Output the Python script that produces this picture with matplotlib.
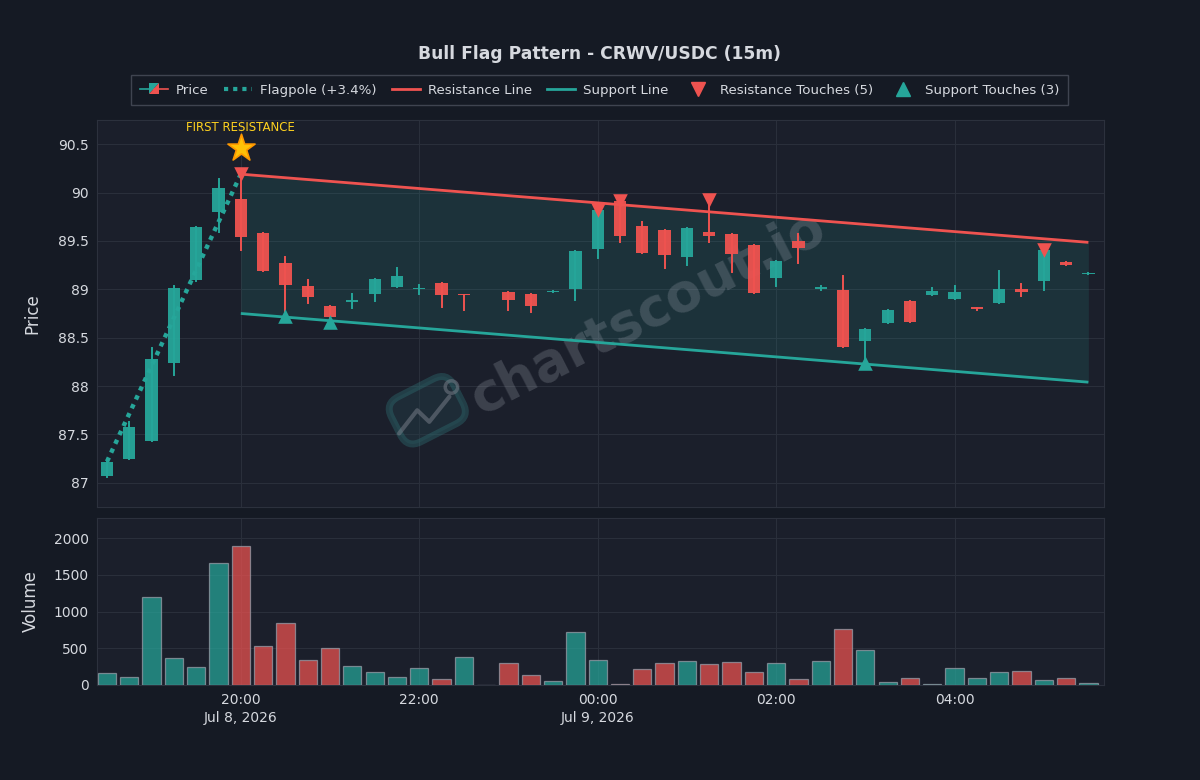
import numpy as np
import pandas as pd
import matplotlib
matplotlib.use("Agg")
import matplotlib.pyplot as plt
import matplotlib.dates as mdates
import matplotlib.ticker as mticker
from matplotlib.patches import Rectangle, Polygon
from matplotlib.lines import Line2D
from matplotlib.legend_handler import HandlerBase

# ─── data (15m candles, Jul 8 18:30 → Jul 9 05:30) ───────────────────────────
times = pd.date_range("2026-07-08 18:30", periods=45, freq="15min")

opens = [87.07, 87.25, 87.43, 88.24, 89.10, 89.80, 89.93, 89.58, 89.27, 89.03,
         88.83, 88.87, 88.95, 89.02, 89.00, 89.06, 88.94, np.nan, 88.975, 88.95,
         88.975, 89.00, 89.42, 89.91, 89.65, 89.61, 89.33, 89.59, 89.57, 89.46,
         89.12, 89.50, 89.00, 88.99, 88.47, 88.65, 88.88, 88.94, 88.90, 88.80,
         88.86, 89.00, 89.09, 89.28, 89.16]
highs = [87.23, 87.63, 88.39, 89.03, 89.64, 90.14, 90.19, 89.58, 89.33, 89.10,
         88.83, 88.95, 89.11, 89.22, 89.04, 89.06, 88.94, np.nan, 88.975, 88.95,
         88.985, 89.40, 89.82, 89.91, 89.70, 89.61, 89.63, 89.92, 89.57, 89.46,
         89.29, 89.57, 89.03, 89.14, 88.59, 88.79, 88.88, 89.01, 89.03, 88.81,
         89.19, 89.05, 89.41, 89.28, 89.17]
lows = [87.06, 87.25, 87.43, 88.11, 89.09, 89.59, 89.41, 89.19, 88.72, 88.86,
        88.66, 88.81, 88.88, 89.02, 88.95, 88.82, 88.79, np.nan, 88.79, 88.77,
        88.97, 88.89, 89.32, 89.49, 89.38, 89.22, 89.25, 89.49, 89.18, 88.96,
        89.03, 89.27, 88.99, 88.40, 88.24, 88.65, 88.66, 88.94, 88.90, 88.79,
        88.86, 88.93, 88.99, 89.25, 89.16]
closes = [87.22, 87.58, 88.28, 89.01, 89.64, 90.05, 89.54, 89.19, 89.04, 88.92,
          88.71, 88.89, 89.11, 89.14, 89.01, 88.94, 88.94, np.nan, 88.89, 88.83,
          88.98, 89.40, 89.82, 89.55, 89.38, 89.35, 89.63, 89.55, 89.36, 88.96,
          89.29, 89.43, 89.02, 88.40, 88.59, 88.79, 88.66, 88.98, 88.97, 88.80,
          89.00, 88.97, 89.41, 89.25, 89.17]
volumes = [160, 110, 1205, 370, 251, 1662, 1900, 525, 845, 338,
           498, 265, 178, 114, 233, 78, 388, 0, 297, 137,
           55, 722, 347, 18, 215, 306, 324, 283, 311, 183,
           297, 87, 329, 758, 475, 41, 100, 14, 233, 96,
           178, 196, 68, 100, 32]

# pattern geometry (candle indices + price levels)
pole_idx = [0, 6]
pole_px = [87.22, 90.19]
flag_idx = [6, 44]
res_px = [90.19, 89.485]
sup_px = [88.75, 88.04]
res_touch_idx = [6, 22, 23, 27, 42]
sup_touch_idx = [8, 10, 34]

# ─── theme ───────────────────────────────────────────────────────────────────
BG = "#151a24"
PANEL = "#1b1f2b"
GRID = "#2a2f3b"
TEXT = "#d6d9df"
UP = "#26a69a"
DOWN = "#ef5350"
GOLD = "#ffd21f"

plt.rcParams["font.family"] = ["DejaVu Sans"]

tnum = mdates.date2num(times)
step = tnum[1] - tnum[0]
o = np.array(opens); h = np.array(highs); l = np.array(lows); c = np.array(closes)

fig = plt.figure(figsize=(12, 7.8), dpi=100, facecolor=BG)
ax = fig.add_axes([0.0808, 0.35, 0.8392, 0.4962])
axv = fig.add_axes([0.0808, 0.1218, 0.8392, 0.2141], sharex=ax)

for a in (ax, axv):
    a.set_facecolor(PANEL)
    a.grid(color=GRID, lw=0.8)
    a.set_axisbelow(True)
    for sp in a.spines.values():
        sp.set_color("#2c313d")
        sp.set_linewidth(0.8)
    a.tick_params(colors=TEXT, labelsize=10, length=0, pad=6)

# ─── flag channel ────────────────────────────────────────────────────────────
fx = tnum[flag_idx]
ax.fill_between(fx, sup_px, res_px, color=UP, alpha=0.14, lw=0, zorder=1)
ax.plot(fx, res_px, color=DOWN, lw=2, zorder=4, solid_capstyle="butt")
ax.plot(fx, sup_px, color=UP, lw=2, zorder=4, solid_capstyle="butt")

# ─── flagpole ────────────────────────────────────────────────────────────────
ax.plot(tnum[pole_idx], pole_px, color=UP, lw=3.2, ls=(0, (1, 1.2)), zorder=5)

# ─── candles ─────────────────────────────────────────────────────────────────
bw = step * 0.55
for i in range(len(tnum)):
    if np.isnan(o[i]):
        continue
    clr = UP if c[i] > o[i] else DOWN
    ax.plot([tnum[i], tnum[i]], [l[i], h[i]], color=clr, lw=1.4, zorder=3)
    bh = max(abs(c[i] - o[i]), 0.012)
    ax.add_patch(Rectangle((tnum[i] - bw / 2, min(o[i], c[i])), bw, bh,
                           fc=clr, ec=clr, lw=0, alpha=0.95, zorder=3))

# ─── touches ─────────────────────────────────────────────────────────────────
ax.scatter(tnum[res_touch_idx], h[res_touch_idx], marker="v", s=110,
           color=DOWN, zorder=6, lw=0)
ax.scatter(tnum[sup_touch_idx], l[sup_touch_idx], marker="^", s=110,
           color=UP, zorder=6, lw=0)

# star + label
ax.scatter([tnum[6]], [90.46], marker="*", s=420, color="#ffc107",
           edgecolor="#ff9800", lw=1.2, zorder=7)
ax.text(tnum[6], 90.6, "FIRST RESISTANCE", color=GOLD, fontsize=8.5,
        ha="center", va="bottom", zorder=7)

# ─── watermark ───────────────────────────────────────────────────────────────
ax.text(0.548, 0.50, "chartscout.io", transform=ax.transAxes, rotation=27,
        ha="center", va="center", fontsize=38, fontweight="bold",
        color="#a0a5b0", alpha=0.26, zorder=2)
ax.text(0.328, 0.25, "     ", transform=ax.transAxes, rotation=27,
        ha="center", va="center", fontsize=22, zorder=2,
        bbox=dict(boxstyle="round,pad=0.35,rounding_size=0.5", fc="#23404a",
                  ec="#2f6f73", lw=5, alpha=0.4))
ax.plot([0.300, 0.318, 0.330, 0.350], [0.19, 0.25, 0.22, 0.285],
        transform=ax.transAxes, color="#7d828d", lw=3, alpha=0.5, zorder=2,
        solid_capstyle="round")
ax.scatter([0.352], [0.31], transform=ax.transAxes, s=80, fc="none",
           ec="#7d828d", lw=2.5, alpha=0.5, zorder=2)

# ─── volume ──────────────────────────────────────────────────────────────────
vcol = [UP if (not np.isnan(o[i]) and c[i] >= o[i]) else DOWN for i in range(len(tnum))]
axv.bar(tnum, volumes, width=step * 0.82, color=vcol, alpha=0.72,
        edgecolor="#9aa0aa", linewidth=0.9, zorder=3)

# ─── axes ────────────────────────────────────────────────────────────────────
ax.set_xlim(tnum[0] - 0.45 * step, tnum[0] + 44.7 * step)
ax.set_ylim(86.75, 90.75)
ax.set_yticks([87, 87.5, 88, 88.5, 89, 89.5, 90, 90.5])
ax.yaxis.set_major_formatter(mticker.FuncFormatter(lambda v, _: f"{v:g}"))
ax.tick_params(axis="x", labelbottom=False)
axv.set_ylim(0, 2275)
axv.set_yticks([0, 500, 1000, 1500, 2000])

xt = mdates.date2num(pd.to_datetime(["2026-07-08 20:00", "2026-07-08 22:00",
                                     "2026-07-09 00:00", "2026-07-09 02:00",
                                     "2026-07-09 04:00"]))
axv.set_xticks(xt)
axv.set_xticklabels(["20:00\nJul 8, 2026", "22:00", "00:00\nJul 9, 2026",
                     "02:00", "04:00"], linespacing=1.35)

ax.set_ylabel("Price", color=TEXT, fontsize=12)
axv.set_ylabel("Volume", color=TEXT, fontsize=12)
ax.yaxis.set_label_coords(-0.055, 0.5)
axv.yaxis.set_label_coords(-0.057, 0.5)

fig.text(0.5, 0.931, "Bull Flag Pattern - CRWV/USDC (15m)", color=TEXT,
         fontsize=12.3, fontweight="bold", ha="center", va="center")


# ─── legend ──────────────────────────────────────────────────────────────────
class CandleHandler(HandlerBase):
    def create_artists(self, legend, orig_handle, xdescent, ydescent,
                       width, height, fontsize, trans):
        x0, y0 = -xdescent, -ydescent
        cx, cy = x0 + width / 2, y0 + height / 2
        s = height * 1.15
        L, R, B, T = cx - s / 2, cx + s / 2, cy - s / 2, cy + s / 2
        up = Polygon([[L, B], [L, T], [R, T]], closed=True, fc=UP, ec="none",
                     transform=trans)
        dn = Polygon([[L, B], [R, B], [R, T]], closed=True, fc=DOWN, ec="none",
                     transform=trans)
        l1 = Line2D([x0, cx], [cy, cy], color=UP, lw=1.2, transform=trans)
        l2 = Line2D([cx, x0 + width], [cy, cy], color=DOWN, lw=1.2, transform=trans)
        return [l1, l2, up, dn]


handles = [
    Rectangle((0, 0), 1, 1),
    Line2D([], [], color=UP, lw=3, ls=(0, (1, 1.2))),
    Line2D([], [], color=DOWN, lw=2),
    Line2D([], [], color=UP, lw=2),
    Line2D([], [], color=DOWN, marker="v", ls="none", markersize=10),
    Line2D([], [], color=UP, marker="^", ls="none", markersize=10),
]
labels = ["Price", "Flagpole (+3.4%)", "Resistance Line", "Support Line",
          "Resistance Touches (5)", "Support Touches (3)"]
leg = fig.legend(handles, labels, loc="center", bbox_to_anchor=(0.4996, 0.8846),
                 ncol=6, frameon=True, facecolor=BG, edgecolor="#4a4f5c",
                 fancybox=False, fontsize=9.6, labelcolor=TEXT,
                 handlelength=2.1, handletextpad=0.6, columnspacing=1.15,
                 borderpad=0.65, handler_map={Rectangle: CandleHandler()})
leg.get_frame().set_linewidth(1.0)

fig.savefig("out.png", dpi=100, facecolor=BG)
